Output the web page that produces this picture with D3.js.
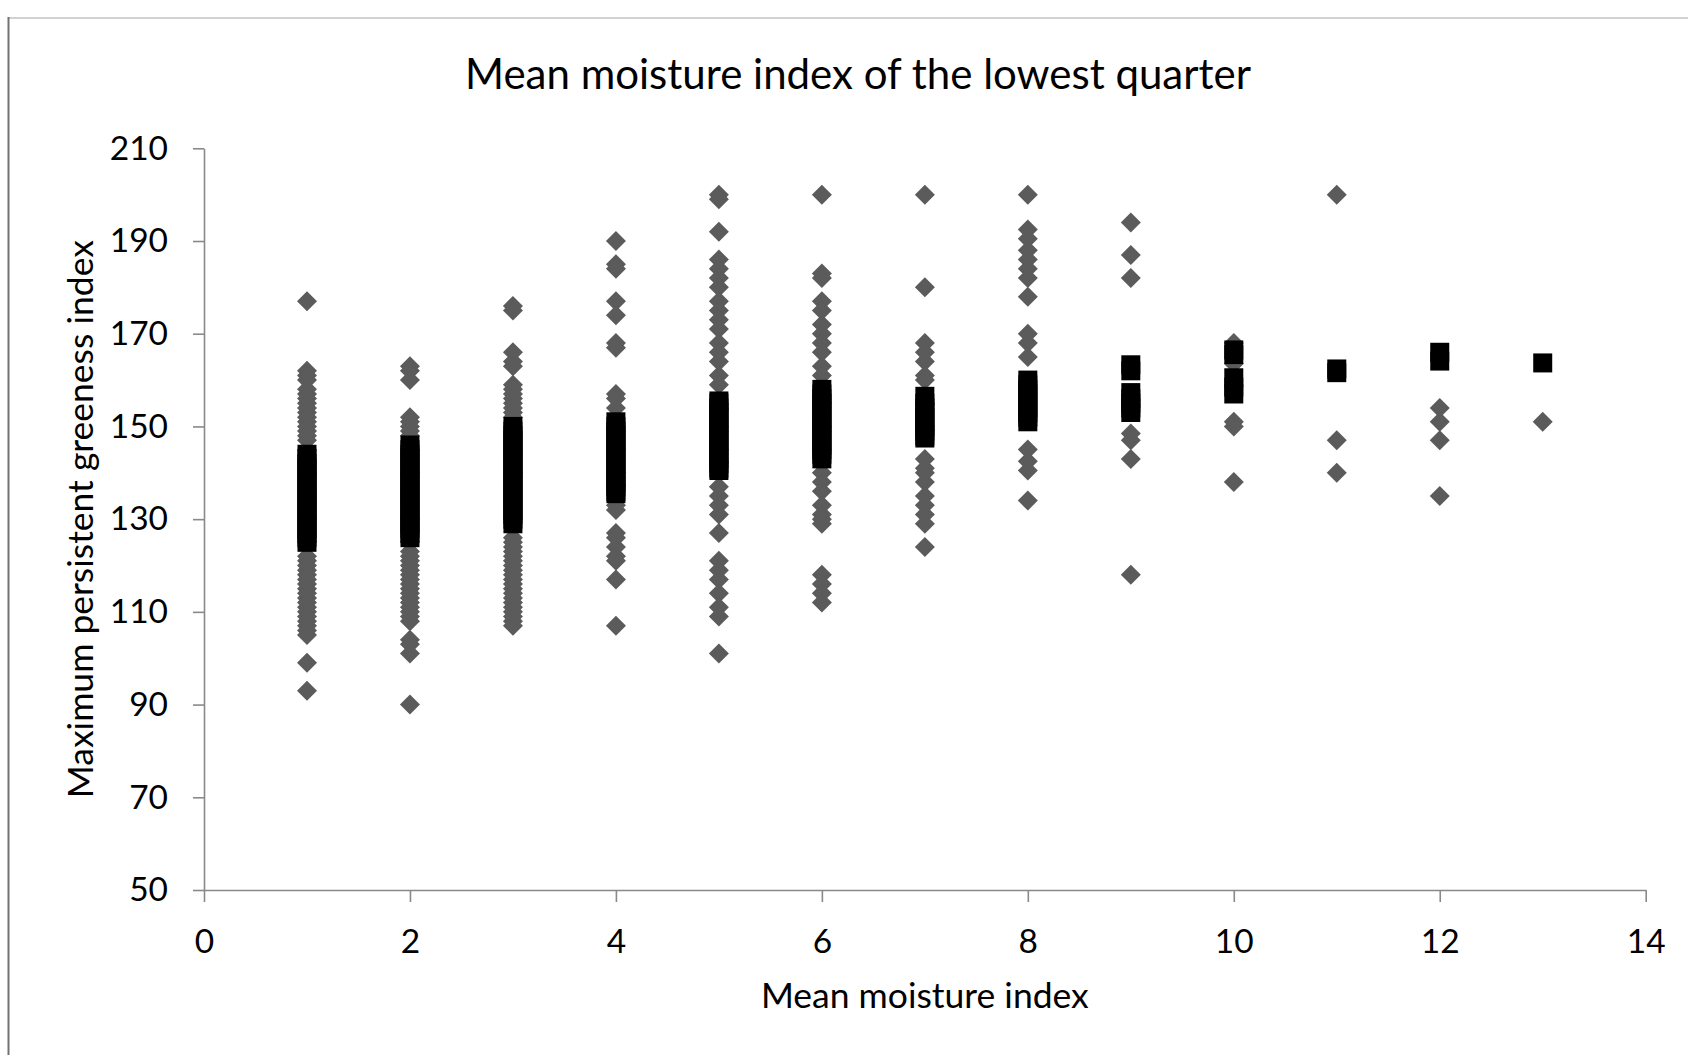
<!DOCTYPE html>
<html>
<head>
<meta charset="utf-8">
<script src="https://cdn.jsdelivr.net/npm/d3@7"></script>
<style>
  html, body { margin: 0; padding: 0; background: #ffffff; }
  svg { display: block; font-family: Lato, "Open Sans", sans-serif; }
</style>
</head>
<body>
<svg id="chart" width="1688" height="1055"></svg>
<script>
// Mean moisture index classes (x positions of the point columns)
const moistureIndex = [1, 2, 3, 4, 5, 6, 7, 8, 9, 10, 11, 12, 13];

// Maximum persistent greeness index of every site, one list per moisture class
const greenessAll = [
  [177, 162, 161, 160, 158, 157, 156, 155, 154, 153, 152, 151, 150, 149, 148, 147, 145, 140, 135, 130, 125,
   122, 121, 120, 119, 118, 117, 116, 115, 114, 113, 112, 111, 110, 109, 108, 107, 106, 105, 99, 93],
  [163, 162, 160, 152, 151, 150, 149, 148, 145, 140, 135, 130, 125, 123, 122, 121, 120, 119, 118, 117,
   116, 115, 114, 113, 112, 111, 110, 109, 108, 104, 103, 101, 90],
  [176, 175, 166, 164, 163, 159, 158, 157, 156, 155, 154, 153, 152, 145, 140, 135, 130, 126, 125, 124,
   123, 122, 121, 120, 119, 118, 117, 116, 115, 114, 113, 112, 111, 110, 109, 108, 107],
  [190, 185, 184, 177, 174, 168, 167, 157, 156, 154, 150, 145, 140, 133, 132, 127, 126, 124, 122, 121, 117, 107],
  [200, 199, 192, 186, 184, 182, 180, 177, 175, 173, 171, 168, 166, 164, 161, 159, 155, 150, 145,
   137, 135, 133, 131, 127, 121, 119, 117, 114, 111, 109, 101],
  [200, 183, 182, 177, 175, 172, 170, 168, 166, 163, 161, 155, 150, 145, 140, 138, 136, 133, 131, 130, 129,
   118, 116, 114, 112],
  [200, 180, 168, 166, 164, 161, 160, 155, 150, 143, 141, 140, 138, 135, 133, 131, 129, 124],
  [200, 192.5, 190.5, 188, 186, 184, 182, 178, 170, 168, 165, 145, 142.5, 140.5, 134],
  [194, 187, 182, 148.5, 147, 143, 118],
  [168, 163.5, 151, 150, 138],
  [200, 147, 140],
  [154, 151, 147, 135],
  [151]
];

// Sites in the middle range of each moisture class
const greenessMiddle = [
  [144, 143, 142, 141, 140, 139, 138, 137, 136, 135, 134, 133, 132, 131, 130, 129, 128, 127, 126, 125],
  [146, 145, 144, 143, 142, 141, 140, 139, 138, 137, 136, 135, 134, 133, 132, 131, 130, 129, 128, 127, 126],
  [150, 149, 148, 147, 146, 145, 144, 143, 142, 141, 140, 139, 138, 137, 136, 135, 134, 133, 132, 131, 130, 129],
  [151, 150, 149, 148, 147, 146, 145, 144, 143, 142, 141, 140, 139, 138, 137, 136, 135.5],
  [155.5, 155, 154, 153, 152, 151, 150, 149, 148, 147, 146, 145, 144, 143, 142, 141, 140.5],
  [158, 157, 156, 155, 154, 153, 152, 151, 150, 149, 148, 147, 146, 145, 144, 143],
  [156.5, 155, 154, 153, 152, 151, 150, 149, 148, 147.5],
  [160, 159, 158, 157, 156, 155, 154, 153, 152, 151],
  [163.3, 162, 157.3, 156, 155, 154, 153],
  [166.5, 165.5, 160.5, 158.5, 157],
  [162.4, 161.6],
  [166, 164.1],
  [163.7]
];

const xTicks = [0, 2, 4, 6, 8, 10, 12, 14];
const yTicks = [50, 70, 90, 110, 130, 150, 170, 190, 210];

const chartTitle = "Mean moisture index of the lowest quarter";
const xTitle = "Mean moisture index";
const yTitle = "Maximum persistent greeness index";

// ---- drawing ----
const svg = d3.select("#chart");
const axisColor = "#898989";

const x = d3.scaleLinear().domain([0, 14]).range([204, 1645.7]);
const y = d3.scaleLinear().domain([50, 210]).range([890, 148.3]);

// chart area frame
svg.append("line")
  .attr("x1", 8).attr("x2", 1688).attr("y1", 18).attr("y2", 18)
  .attr("stroke", "#d2d2d2").attr("stroke-width", 2);
svg.append("line")
  .attr("x1", 8.5).attr("x2", 8.5).attr("y1", 17).attr("y2", 1055)
  .attr("stroke", "#727272").attr("stroke-width", 2);

// title
svg.append("text")
  .attr("x", 858).attr("y", 89)
  .attr("text-anchor", "middle")
  .attr("font-size", 42)
  .attr("fill", "#000")
  .text(chartTitle);

// y axis
const yAxis = svg.append("g")
  .attr("transform", `translate(${x(0)},0)`)
  .call(d3.axisLeft(y).tickValues(yTicks).tickSize(11).tickSizeOuter(0).tickPadding(25));
yAxis.selectAll("text").attr("font-size", 33.5).attr("fill", "#000").attr("font-family", "Lato, sans-serif");

// x axis
const xAxis = svg.append("g")
  .attr("transform", `translate(0,${y(50)})`)
  .call(d3.axisBottom(x).tickValues(xTicks).tickSize(12).tickSizeOuter(0));
xAxis.selectAll("text")
  .attr("font-size", 33.5).attr("fill", "#000").attr("font-family", "Lato, sans-serif")
  .attr("y", 63).attr("dy", 0);

[yAxis, xAxis].forEach(g => {
  g.select(".domain").attr("stroke", axisColor).attr("stroke-width", 1.6);
  g.selectAll(".tick line").attr("stroke", axisColor).attr("stroke-width", 1.6);
});

// axis titles
svg.append("text")
  .attr("x", (x(0) + x(14)) / 2).attr("y", 1008)
  .attr("text-anchor", "middle")
  .attr("font-size", 35.5)
  .attr("fill", "#000")
  .text(xTitle);

svg.append("text")
  .attr("transform", `translate(93,${(y(50) + y(210)) / 2}) rotate(-90)`)
  .attr("text-anchor", "middle")
  .attr("font-size", 35.5)
  .attr("fill", "#000")
  .text(yTitle);

// point series
const allPoints = moistureIndex.flatMap((m, i) => greenessAll[i].map(v => ({ m, v })));
const middlePoints = moistureIndex.flatMap((m, i) => greenessMiddle[i].map(v => ({ m, v })));

const diamond = d3.symbol().type(d3.symbolSquare).size(200);
const square = d3.symbol().type(d3.symbolSquare).size(361);

svg.append("g").selectAll("path")
  .data(allPoints)
  .join("path")
  .attr("d", diamond)
  .attr("transform", d => `translate(${x(d.m)},${y(d.v)}) rotate(45)`)
  .attr("fill", "#5b5b5b");

svg.append("g").selectAll("path")
  .data(middlePoints)
  .join("path")
  .attr("d", square)
  .attr("transform", d => `translate(${x(d.m)},${y(d.v)})`)
  .attr("fill", "#000");
</script>
</body>
</html>
